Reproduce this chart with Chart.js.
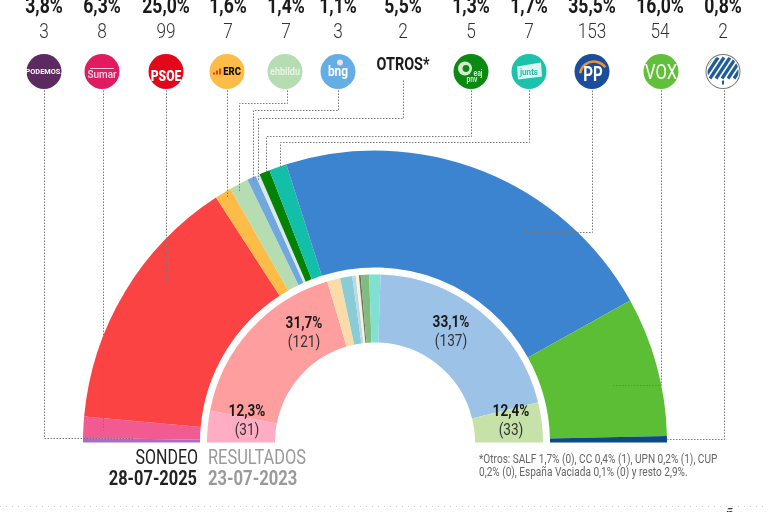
<!DOCTYPE html>
<html lang="es">
<head>
<meta charset="utf-8">
<title>Sondeo 28-07-2025</title>
<script src="https://cdn.jsdelivr.net/npm/chart.js@4"></script>
<style>
html,body{margin:0;padding:0;background:#fff;overflow:hidden}
#wrap{position:relative;width:768px;height:512px}
canvas{display:block}
</style>
</head>
<body>
<div id="wrap"><canvas id="c" width="768" height="512"></canvas></div>
<script>
// ---------- data ----------
const parties     = ['Podemos','Sumar','PSOE','ERC','EH Bildu','BNG','Otros','PNV','Junts','PP','Vox','Se Acabó La Fiesta'];
const pollShare   = ['3,8%','6,3%','25,0%','1,6%','1,4%','1,1%','5,5%','1,3%','1,7%','35,5%','16,0%','0,8%'];
const pollSeats   = [3,8,99,7,7,3,2,5,7,153,54,2];
// arc sizes (degrees of the half circle)
const pollArc     = [0.9,4.2,51.9,3.3,3.8,1.8,0.8,2.1,3.5,78.6,27.8,1.3];
const pollColors  = ['#ad6bc8','#f25a92','#fc4343','#fdbb47','#b6dcb2','#6ea8de','#dde6ee','#038203','#13bfa8','#3c83d0','#5cbe34','#0b4a85'];

const resultParties = ['Sumar','PSOE','ERC','EH Bildu','BNG','CC','UPN','PNV','Junts','PP','Vox'];
const resultArc     = [11,62.5,4.5,4.2,1.2,1.1,0.6,2.9,3.9,74.2,13.9];
const resultColors  = ['#ffacc5','#ff9e9e','#fbdca9','#8accd5','#b9d8ee','#fbf5cc','#6e6e6e','#80bc80','#80e0d2','#9dc2e8','#c7e2a9'];

const resultLabels = [['12,3%','(31)'],['31,7%','(121)'],['33,1%','(137)'],['12,4%','(33)']];
const captionLeft  = ['SONDEO','28-07-2025'];
const captionRight = ['RESULTADOS','23-07-2023'];
const footnote     = ['*Otros: SALF 1,7% (0), CC 0,4% (1), UPN 0,2% (1), CUP','0,2% (0), España Vaciada 0,1% (0) y resto 2,9%.'];

// ---------- layout ----------
const headerX  = [44,102,166,228,286,338,403,471,529,592,660,723];
const logoX    = [44,102,166,227,285,338,403,471,529,592,661,723];
const leaders  = [
  [[44,90],[44,438],[133,438]],
  [[103,90],[103,430]],
  [[166,90],[166,282]],
  [[227,90],[227,198]],
  [[287,90],[287,103],[239,103],[239,191]],
  [[338,90],[338,110],[253,110],[253,180]],
  [[403,80],[403,118],[258,118],[258,180]],
  [[471,90],[471,136],[266,136],[266,172]],
  [[529,90],[529,142],[280,142],[280,168]],
  [[592,90],[592,232],[523,232]],
  [[661,90],[661,385],[613,385]],
  [[724,90],[724,439],[667,439]]
];
const labelPos = [[247,416,435],[304,328,347],[451,327,346],[511,416,435]];

function txt(ctx,s,x,y,o){
  ctx.save();
  ctx.font=(o.w||400)+' '+o.size+'px Roboto, sans-serif';
  ctx.fillStyle=o.color||'#222';
  ctx.textBaseline='alphabetic';
  ctx.textAlign=o.align||'center';
  ctx.translate(x,y);
  ctx.scale(o.sx||0.8,1);
  ctx.fillText(s,0,0);
  ctx.restore();
}
function disc(ctx,x,y,r,fill){
  ctx.beginPath();ctx.arc(x,y,r,0,Math.PI*2);ctx.fillStyle=fill;ctx.fill();
}
const logoDraw = [
  (c,x,y)=>{disc(c,x,y,17.5,'#5b2b5f');txt(c,'PODEMOS.',x,y+2.5,{size:8,w:700,color:'#fff',sx:.92});},
  (c,x,y)=>{disc(c,x,y,17.5,'#e21a60');c.fillStyle='#f7c6d6';c.fillRect(x-12,y-3.5,24,1);txt(c,'Sumar',x,y+6,{size:11,w:500,color:'#f9dbe5',sx:.9});},
  (c,x,y)=>{disc(c,x,y,17.5,'#e2081a');txt(c,'PSOE',x,y+9,{size:15.5,w:900,color:'#fff',sx:.78});},
  (c,x,y)=>{disc(c,x,y,17.5,'#fdbb47');c.fillStyle='#d9480f';[[-14,2],[-11,4],[-8,6]].forEach(b=>c.fillRect(x+b[0],y+3-b[1],2,b[1]));txt(c,'ERC',x+5,y+3.5,{size:10,w:900,color:'#111',sx:.95});},
  (c,x,y)=>{disc(c,x,y,17.5,'#b6dcb2');txt(c,'ehbildu',x,y+3,{size:10,w:700,color:'#e6f4e4',sx:.9});},
  (c,x,y)=>{disc(c,x,y,17.5,'#64aee3');disc(c,x+2,y-9,3,'#e8e2ee');txt(c,'bng',x,y+4,{size:14,w:700,color:'#fff',sx:.85});},
  (c,x,y)=>{txt(c,'OTROS*',x,y,{size:18,w:700,color:'#1a1a1a',sx:.8});},
  (c,x,y)=>{disc(c,x,y,17.5,'#0a8a12');disc(c,x-6,y-3,7,'#d6ecd2');disc(c,x-5,y-3,3.4,'#0a8a12');txt(c,'eaj',x+7,y+4,{size:8.5,w:500,color:'#e9f5e6'});txt(c,'pnv',x+1,y+10,{size:8.5,w:500,color:'#e9f5e6'});},
  (c,x,y)=>{disc(c,x,y,17.5,'#1cc2ab');c.fillStyle='#dff7f3';c.beginPath();c.moveTo(x-12,y-5);c.lineTo(x+12,y-9);c.lineTo(x+13,y+5);c.lineTo(x-11,y+8);c.closePath();c.fill();txt(c,'junts',x,y+3,{size:8.5,w:700,color:'#1cc2ab',sx:.95});},
  (c,x,y)=>{disc(c,x,y,17.5,'#1a4d9c');c.strokeStyle='#f0902f';c.lineWidth=2.6;c.beginPath();c.arc(x+2,y+4,14,Math.PI*1.05,Math.PI*1.8);c.stroke();txt(c,'PP',x+1,y+9,{size:21,w:700,color:'#fff',sx:.72});},
  (c,x,y)=>{disc(c,x,y,17.5,'#62bf3a');txt(c,'VOX',x,y+7,{size:20,w:400,color:'#fff',sx:.83});},
  (c,x,y)=>{disc(c,x,y,17.5,'#777');disc(c,x,y,16.5,'#fff');c.save();c.beginPath();c.arc(x,y,15.5,0,Math.PI*2);c.clip();c.strokeStyle='#1f5c9a';c.lineWidth=3.2;for(let i=-18;i<=18;i+=6){c.beginPath();c.moveTo(x+i-7,y+7);c.lineTo(x+i+7,y-14);c.stroke();}c.fillStyle='#fff';c.fillRect(x-17,y+9,34,9);c.restore();c.fillStyle='#1f5c9a';c.fillRect(x-1,y+9,2,4);}
];

const decorations = {
  id:'decorations',
  afterDatasetsDraw(chart){
    const c=chart.ctx;
    c.save();
    c.strokeStyle='#777';c.lineWidth=1;c.setLineDash([1.5,1.5]);
    leaders.forEach(pts=>{
      c.beginPath();
      pts.forEach((p,i)=>i?c.lineTo(p[0]+.5,p[1]+.5):c.moveTo(p[0]+.5,p[1]+.5));
      c.stroke();
    });
    c.strokeStyle='#c9c9c9';c.setLineDash([1,5]);
    c.beginPath();c.moveTo(0,506.5);c.lineTo(768,506.5);c.stroke();
    c.restore();
    parties.forEach((p,i)=>{
      txt(c,pollShare[i],headerX[i],13,{size:22,w:700,color:'#1a1a1a',sx:.8});
      txt(c,String(pollSeats[i]),headerX[i],38,{size:21,w:300,color:'#333',sx:.82});
      logoDraw[i](c,logoX[i],i===6?70:71.5);
    });
    resultLabels.forEach((l,i)=>{
      const p=labelPos[i];
      txt(c,l[0],p[0],p[1],{size:16,w:700,color:'#1a1a1a',sx:.85});
      txt(c,l[1],p[0],p[2],{size:16,w:400,color:'#333',sx:.85});
    });
    txt(c,captionLeft[0],198,464,{size:20,w:400,color:'#222',align:'right',sx:.8});
    txt(c,captionLeft[1],197,485,{size:20,w:700,color:'#222',align:'right',sx:.82});
    txt(c,captionRight[0],208,464,{size:20,w:400,color:'#9a9a9a',align:'left',sx:.82});
    txt(c,captionRight[1],208,485,{size:20,w:700,color:'#9a9a9a',align:'left',sx:.83});
    footnote.forEach((l,i)=>txt(c,l,479,463+i*13,{size:13,w:400,color:'#666',align:'left',sx:.775}));
    txt(c,'ñ',730,519.5,{size:16,w:500,color:'#333',sx:.9});
  }
};

new Chart(document.getElementById('c'),{
  type:'doughnut',
  data:{
    labels:parties,
    datasets:[
      {label:'Sondeo 28-07-2025',data:pollArc,backgroundColor:pollColors,borderWidth:0,weight:117},
      {label:'',data:[],weight:7},
      {label:'Resultados 23-07-2023',data:resultArc,backgroundColor:resultColors,borderWidth:0,weight:68}
    ]
  },
  options:{
    responsive:false,
    animation:false,
    rotation:-90,
    circumference:180,
    cutout:'34.25%',
    layout:{padding:{left:83,right:101,top:150.5,bottom:69.5}},
    plugins:{legend:{display:false},tooltip:{enabled:false},title:{display:false}}
  },
  plugins:[decorations]
});
</script>
</body>
</html>
